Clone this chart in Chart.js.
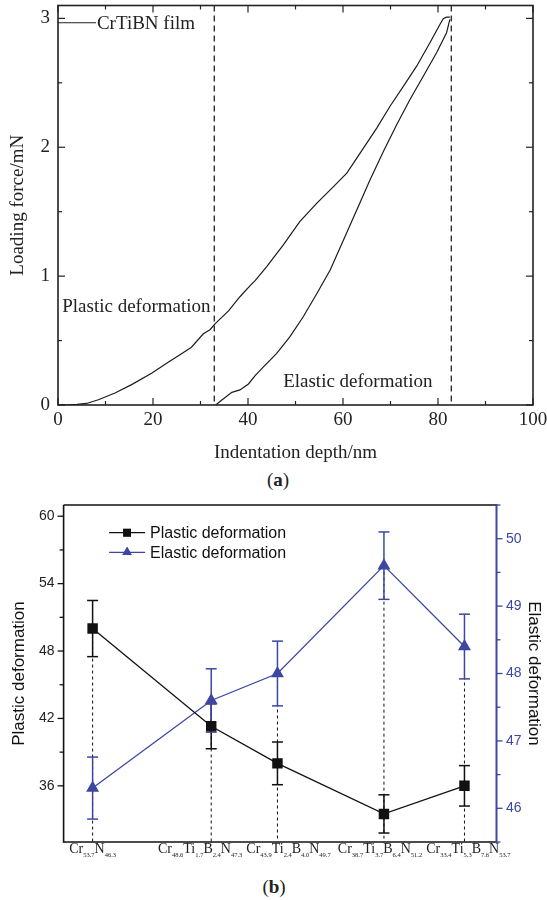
<!DOCTYPE html>
<html><head><meta charset="utf-8">
<script src="https://cdn.jsdelivr.net/npm/chart.js@4.4.1/dist/chart.umd.min.js"></script>
<style>
body{margin:0;background:#fff;width:547px;height:900px;position:relative;overflow:hidden}
#wa{position:absolute;left:0;top:0;width:547px;height:466px}
#wb{position:absolute;left:0;top:490px;width:547px;height:385px}
.cap{position:absolute;font-family:'Liberation Serif',serif;font-size:19px;color:#222;transform:translateX(-50%);line-height:22px;white-space:nowrap}
</style></head><body>
<div id="wa"><canvas id="ca" width="547" height="466"></canvas></div>
<div class="cap" style="left:278px;top:469px">(<b>a</b>)</div>
<div id="wb"><canvas id="cb" width="547" height="385"></canvas></div>
<div class="cap" style="left:274px;top:876px">(<b>b</b>)</div>
<script>
// ---------- (a) load–displacement data ----------
const loadDepth = [0, 1.5, 4.0, 6.0, 8.5, 12.0, 15.5, 19.7, 23.2, 26.0, 28.1, 30.6, 32.0, 33.05, 35.9, 38.3, 40.4, 41.5, 43.9, 47.4, 50.9, 54.5, 58.0, 60.8, 63.6, 67.1, 69.9, 72.7, 75.5, 78.3, 80.4, 81.1, 81.8, 82.5];
const loadForce = [0, 0, 0.005, 0.012, 0.041, 0.093, 0.158, 0.246, 0.332, 0.397, 0.448, 0.553, 0.584, 0.630, 0.73, 0.84, 0.925, 0.965, 1.072, 1.241, 1.423, 1.566, 1.695, 1.799, 1.955, 2.149, 2.318, 2.473, 2.629, 2.811, 2.953, 2.998, 3.010, 3.010];
const unloadDepth = [82.5, 81.8, 79.7, 76.9, 74.1, 71.3, 68.5, 65.7, 62.9, 60.1, 57.3, 54.5, 51.6, 48.8, 46.0, 43.2, 41.5, 40.1, 38.3, 36.6, 34.5, 33.2];
const unloadForce = [2.992, 2.889, 2.733, 2.551, 2.370, 2.175, 1.967, 1.747, 1.514, 1.280, 1.047, 0.865, 0.683, 0.528, 0.398, 0.294, 0.228, 0.163, 0.117, 0.098, 0.039, 0];
const dashDepths = [32.9, 82.8];
const xTicksA = [0, 20, 40, 60, 80, 100];
const yTicksA = [0, 1, 2, 3];
const seriesNameA = 'CrTiBN film';
const noteA = ['Plastic deformation', 'Elastic deformation'];

// ---------- (b) deformation vs composition ----------
const categories = ['Cr53.7N46.3', 'Cr48.6Ti1.7B2.4N47.3', 'Cr43.9Ti2.4B4.0N49.7', 'Cr38.7Ti3.7B6.4N51.2', 'Cr33.4Ti5.3B7.6N53.7'];
const catX = [0.67, 3.41, 4.94, 7.40, 9.26];
const plastic = [50.0, 41.3, 38.0, 33.5, 36.0];
const plasticErr = [2.5, 2.0, 1.9, 1.7, 1.8];
const elastic = [46.3, 47.6, 48.0, 49.6, 48.4];
const elasticErr = [0.46, 0.47, 0.48, 0.5, 0.48];
const yTicksB = [36, 42, 48, 54, 60];
const y2TicksB = [46, 47, 48, 49, 50];

const INK = '#222';
const BLUE = '#3d47a2';
const SERIF = "'Liberation Serif', 'Times New Roman', serif";
const SANS = "'Liberation Sans', Arial, sans-serif";

function seg(ctx, x1, y1, x2, y2) { ctx.beginPath(); ctx.moveTo(x1, y1); ctx.lineTo(x2, y2); ctx.stroke(); }
function mids(t) { const r = []; for (let i = 0; i + 1 < t.length; i++) r.push((t[i] + t[i + 1]) / 2); return r; }
function noPad(s) { s.paddingTop = 0; s.paddingBottom = 0; s.paddingLeft = 0; s.paddingRight = 0; }

// ----- chart (a) -----
const decorA = {
  id: 'decorA',
  beforeDatasetsDraw(chart) {
    const {ctx, chartArea: a, scales: {x}} = chart;
    ctx.save();
    ctx.strokeStyle = INK; ctx.lineWidth = 1.3; ctx.setLineDash([6, 4]);
    dashDepths.forEach(d => { const px = x.getPixelForValue(d); seg(ctx, px, a.top, px, a.bottom); });
    ctx.restore();
  },
  afterDraw(chart) {
    const {ctx, chartArea: a, scales: {x, y}} = chart;
    ctx.save();
    ctx.strokeStyle = INK; ctx.lineWidth = 1.6;
    ctx.strokeRect(a.left, a.top, a.right - a.left, a.bottom - a.top);
    ctx.lineWidth = 1.2;
    xTicksA.forEach(v => { const p = x.getPixelForValue(v); seg(ctx, p, a.bottom, p, a.bottom - 7); seg(ctx, p, a.top, p, a.top + 7); });
    mids(xTicksA).forEach(v => { const p = x.getPixelForValue(v); seg(ctx, p, a.bottom, p, a.bottom - 4); seg(ctx, p, a.top, p, a.top + 4); });
    yTicksA.forEach(v => { const p = y.getPixelForValue(v); seg(ctx, a.left, p, a.left + 7, p); seg(ctx, a.right, p, a.right - 7, p); });
    mids(yTicksA).forEach(v => { const p = y.getPixelForValue(v); seg(ctx, a.left, p, a.left + 4, p); seg(ctx, a.right, p, a.right - 4, p); });
    // legend line + text
    const ly = y.getPixelForValue(2.966);
    ctx.lineWidth = 1.2;
    seg(ctx, a.left, ly, x.getPixelForValue(8.0), ly);
    ctx.fillStyle = INK; ctx.font = '19px ' + SERIF; ctx.textBaseline = 'alphabetic'; ctx.textAlign = 'left';
    ctx.fillText(chart.data.datasets[0].label, x.getPixelForValue(8.2), y.getPixelForValue(2.92));
    ctx.fillText(noteA[0], x.getPixelForValue(0.9), y.getPixelForValue(0.722));
    ctx.fillText(noteA[1], x.getPixelForValue(47.4), y.getPixelForValue(0.139));
    ctx.restore();
  }
};

new Chart(document.getElementById('ca'), {
  type: 'line',
  data: {
    datasets: [
      {label: seriesNameA, data: loadDepth.map((d, i) => ({x: d, y: loadForce[i]})), borderColor: '#1c1c1c', borderWidth: 1.2, pointRadius: 0, tension: 0, fill: false},
      {label: seriesNameA + ' (unloading)', data: unloadDepth.map((d, i) => ({x: d, y: unloadForce[i]})), borderColor: '#1c1c1c', borderWidth: 1.2, pointRadius: 0, tension: 0, fill: false}
    ]
  },
  options: {
    responsive: false, animation: false, devicePixelRatio: 1,
    layout: {padding: {top: 5.5, right: 14, left: 0, bottom: 0}},
    plugins: {legend: {display: false}, tooltip: {enabled: false}},
    scales: {
      x: {
        type: 'linear', min: 0, max: 100,
        afterBuildTicks(s) { s.ticks = xTicksA.map(v => ({value: v})); },
        ticks: {padding: 4, color: INK, font: {family: SERIF, size: 19}, maxRotation: 0, autoSkip: false},
        grid: {display: false, drawTicks: false}, border: {display: false},
        title: {display: true, text: 'Indentation depth/nm', color: INK, font: {family: SERIF, size: 19}, padding: {top: 0, bottom: 2}},
        afterFit(s) { s.height = 61; noPad(s); }
      },
      y: {
        type: 'linear', min: 0, max: 3.1,
        afterBuildTicks(s) { s.ticks = yTicksA.map(v => ({value: v})); },
        ticks: {padding: 8, color: INK, font: {family: SERIF, size: 19}},
        grid: {display: false, drawTicks: false}, border: {display: false},
        title: {display: true, text: 'Loading force/mN', color: INK, font: {family: SERIF, size: 19}, padding: {top: 7, bottom: 0}},
        afterFit(s) { s.width = 58; noPad(s); }
      }
    }
  },
  plugins: [decorA]
});

// ----- chart (b) -----
function parseLabel(s) { const parts = []; const re = /([A-Z][a-z]?)([\d.]+)/g; let m; while ((m = re.exec(s))) parts.push([m[1], m[2]]); return parts; }

const decorB = {
  id: 'decorB',
  beforeDatasetsDraw(chart) {
    const {ctx, chartArea: a, scales: {x, y, y2}} = chart;
    ctx.save();
    ctx.strokeStyle = '#111'; ctx.lineWidth = 1; ctx.setLineDash([3, 3]);
    catX.forEach((cx, i) => {
      const px = x.getPixelForValue(cx);
      const top = Math.min(y.getPixelForValue(plastic[i]), y2.getPixelForValue(elastic[i]));
      seg(ctx, px, top, px, a.bottom);
    });
    ctx.setLineDash([]);
    ctx.lineWidth = 1.5;
    const bars = (vals, errs, sc, col) => {
      ctx.strokeStyle = col;
      vals.forEach((v, i) => {
        const px = x.getPixelForValue(catX[i]);
        const t = sc.getPixelForValue(v + errs[i]), b = sc.getPixelForValue(v - errs[i]);
        seg(ctx, px, t, px, b); seg(ctx, px - 5.5, t, px + 5.5, t); seg(ctx, px - 5.5, b, px + 5.5, b);
      });
    };
    bars(plastic, plasticErr, y, '#111');
    bars(elastic, elasticErr, y2, BLUE);
    ctx.restore();
  },
  afterDraw(chart) {
    const {ctx, chartArea: a, scales: {x, y, y2}} = chart;
    ctx.save();
    // frame
    ctx.lineWidth = 1.6; ctx.strokeStyle = '#111';
    seg(ctx, a.left, a.top, a.left, a.bottom + 0.8);
    seg(ctx, a.left, a.bottom, a.right, a.bottom);
    seg(ctx, a.left, a.top, a.right, a.top);
    ctx.lineWidth = 1.3;
    yTicksB.forEach(v => { const p = y.getPixelForValue(v); seg(ctx, a.left, p, a.left - 6, p); });
    mids(yTicksB).forEach(v => { const p = y.getPixelForValue(v); seg(ctx, a.left, p, a.left - 4, p); });
    ctx.strokeStyle = BLUE; ctx.lineWidth = 2;
    seg(ctx, a.right, a.top - 1, a.right, a.bottom + 1);
    ctx.lineWidth = 1.3;
    y2TicksB.forEach(v => { const p = y2.getPixelForValue(v); seg(ctx, a.right, p, a.right + 6, p); });
    const m2 = [y2TicksB[0] - 0.5].concat(mids(y2TicksB), [y2TicksB[y2TicksB.length - 1] + 0.5]);
    m2.forEach(v => { const p = y2.getPixelForValue(v); seg(ctx, a.right, p, a.right + 4, p); });
    // legend
    const ds = chart.data.datasets;
    const lx = a.left + 45.5, lys = [a.top + 27.7, a.top + 47.3];
    ds.forEach((d, i) => {
      const ly = lys[i];
      ctx.strokeStyle = d.borderColor; ctx.lineWidth = 1.3;
      seg(ctx, lx, ly, lx + 36, ly);
      ctx.fillStyle = d.pointBackgroundColor;
      Chart.helpers.drawPoint(ctx, {pointStyle: d.pointStyle, radius: 5.5, borderWidth: 0}, lx + 18, ly);
      ctx.fill();
      ctx.fillStyle = '#111'; ctx.font = '16px ' + SANS; ctx.textBaseline = 'middle'; ctx.textAlign = 'left';
      ctx.fillText(d.label, lx + 41, ly + 1);
    });
    // rich category labels
    const mainF = '14px ' + SERIF, subF = '6.5px ' + SERIF;
    const items = categories.map((c, i) => {
      const parts = parseLabel(c);
      let w = 0;
      parts.forEach(p => { ctx.font = mainF; w += ctx.measureText(p[0]).width; ctx.font = subF; w += ctx.measureText(p[1]).width; });
      return {parts, w, c: x.getPixelForValue(catX[i])};
    });
    for (let pass = 0; pass < 6; pass++) {
      for (let i = 1; i < items.length; i++) {
        const ov = (items[i - 1].c + items[i - 1].w / 2 + 4) - (items[i].c - items[i].w / 2);
        if (ov > 0) { items[i - 1].c -= ov / 2; items[i].c += ov / 2; }
      }
    }
    const base = a.bottom + 11;
    ctx.fillStyle = '#222'; ctx.textBaseline = 'alphabetic'; ctx.textAlign = 'left';
    items.forEach(it => {
      let cx = it.c - it.w / 2;
      it.parts.forEach(p => {
        ctx.font = mainF; ctx.fillText(p[0], cx, base); cx += ctx.measureText(p[0]).width;
        ctx.font = subF; ctx.fillText(p[1], cx, base + 3.5); cx += ctx.measureText(p[1]).width;
      });
    });
    ctx.restore();
  }
};

new Chart(document.getElementById('cb'), {
  type: 'line',
  data: {
    datasets: [
      {label: 'Plastic deformation', yAxisID: 'y', data: catX.map((c, i) => ({x: c, y: plastic[i]})),
       borderColor: '#111', borderWidth: 1.3, pointStyle: 'rect', pointRadius: 7.4, pointBackgroundColor: '#111', pointBorderColor: '#111', pointBorderWidth: 0, tension: 0},
      {label: 'Elastic deformation', yAxisID: 'y2', data: catX.map((c, i) => ({x: c, y: elastic[i]})),
       borderColor: BLUE, borderWidth: 1.3, pointStyle: 'triangle', pointRadius: 7.5, pointBackgroundColor: BLUE, pointBorderColor: BLUE, pointBorderWidth: 0, tension: 0}
    ]
  },
  options: {
    responsive: false, animation: false, devicePixelRatio: 1,
    layout: {padding: {top: 15, right: 0, left: 0, bottom: 0}},
    plugins: {legend: {display: false}, tooltip: {enabled: false}},
    scales: {
      x: {
        type: 'linear', min: 0, max: 10,
        afterBuildTicks(s) { s.ticks = catX.map(v => ({value: v})); },
        ticks: {display: false}, grid: {display: false, drawTicks: false}, border: {display: false},
        afterFit(s) { s.height = 33; noPad(s); }
      },
      y: {
        type: 'linear', position: 'left', min: 31, max: 61,
        afterBuildTicks(s) { s.ticks = yTicksB.map(v => ({value: v})); },
        ticks: {padding: 9, color: '#222', font: {family: SANS, size: 14}},
        grid: {display: false, drawTicks: false}, border: {display: false},
        title: {display: true, text: 'Plastic deformation', color: '#111', font: {family: SANS, size: 17}, padding: {top: 9, bottom: 0}},
        afterFit(s) { s.width = 63.6; noPad(s); }
      },
      y2: {
        type: 'linear', position: 'right', min: 45.5, max: 50.5,
        afterBuildTicks(s) { s.ticks = y2TicksB.map(v => ({value: v})); },
        ticks: {padding: 9.5, color: BLUE, font: {family: SANS, size: 14}},
        grid: {display: false, drawTicks: false}, border: {display: false},
        title: {display: true, text: 'Elastic deformation', color: '#111', font: {family: SANS, size: 17}, padding: {top: 3, bottom: 0}},
        afterFit(s) { s.width = 50.5; noPad(s); }
      }
    }
  },
  plugins: [decorB]
});
</script>
</body></html>
